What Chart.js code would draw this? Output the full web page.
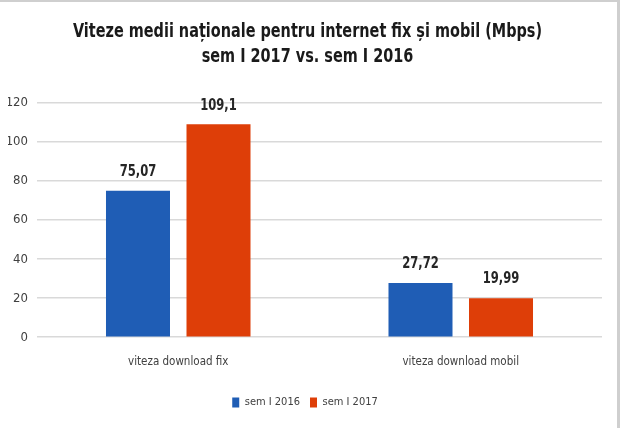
<!DOCTYPE html>
<html>
<head>
<meta charset="utf-8">
<script src="https://cdn.jsdelivr.net/npm/chart.js@4.4.1/dist/chart.umd.min.js"></script>
<style>
  html, body { margin: 0; padding: 0; background: #fff; }
  #wrap { width: 620px; height: 428px; box-sizing: border-box; border-top: 2px solid #cfcfcf; border-right: 3px solid #cfcfcf; position: relative; }
  #wrap canvas { display: block; }
</style>
</head>
<body>
<div id="wrap"><canvas id="c"></canvas></div>
<script>
const categories = ['viteza download fix', 'viteza download mobil'];
const series2016 = [75.07, 27.72];
const series2017 = [109.1, 19.99];
const labels2016 = ['75,07', '27,72'];
const labels2017 = ['109,1', '19,99'];
const seriesNames = ['sem I 2016', 'sem I 2017'];
const titleLines = ['Viteze medii naționale pentru internet fix și mobil (Mbps)', 'sem I 2017 vs. sem I 2016'];

const FONT = "'DejaVu Sans Condensed', 'Liberation Sans', sans-serif";

// draws text horizontally compressed (the original uses a narrow font)
function narrowText(ctx, text, x, y, sx) {
  ctx.save();
  ctx.translate(x, y);
  ctx.scale(sx, 1);
  ctx.fillText(text, 0, 0);
  ctx.restore();
}

const titlePlugin = {
  id: 'narrowTitle',
  afterDraw(chart) {
    const ctx = chart.ctx;
    ctx.save();
    ctx.font = 'bold 19px ' + FONT;
    ctx.fillStyle = '#1a1a1a';
    ctx.textAlign = 'center';
    ctx.textBaseline = 'middle';
    const cx = chart.width / 2 - 1;
    titleLines.forEach((t, i) => narrowText(ctx, t, cx, 30 + i * 25, 0.845));
    ctx.restore();
  }
};

const valueLabels = {
  id: 'valueLabels',
  afterDatasetsDraw(chart) {
    const ctx = chart.ctx;
    const texts = [labels2016, labels2017];
    ctx.save();
    ctx.font = 'bold 16.5px ' + FONT;
    ctx.fillStyle = '#262626';
    ctx.textAlign = 'center';
    ctx.textBaseline = 'middle';
    chart.data.datasets.forEach((ds, di) => {
      const meta = chart.getDatasetMeta(di);
      meta.data.forEach((el, i) => {
        narrowText(ctx, texts[di][i], el.x, el.y - 19, 0.78);
      });
    });
    ctx.restore();
  }
};

new Chart(document.getElementById('c'), {
  type: 'bar',
  data: {
    labels: categories,
    datasets: [
      { label: seriesNames[0], data: series2016, backgroundColor: '#1f5db5', barPercentage: 0.795, categoryPercentage: 0.57 },
      { label: seriesNames[1], data: series2017, backgroundColor: '#de3e08', barPercentage: 0.795, categoryPercentage: 0.57 }
    ]
  },
  options: {
    responsive: true,
    maintainAspectRatio: false,
    animation: false,
    layout: { padding: { left: 8, right: 15, top: 101, bottom: 10 } },
    plugins: {
      title: { display: false },
      legend: {
        position: 'bottom',
        labels: {
          color: '#404040',
          font: { family: FONT, size: 11 },
          boxWidth: 7,
          boxHeight: 10,
          padding: 10
        }
      },
      tooltip: { enabled: false }
    },
    scales: {
      x: {
        grid: { display: false, drawTicks: false },
        border: { display: false },
        ticks: { color: '#404040', font: { family: FONT, size: 11.5 }, padding: 18 }
      },
      y: {
        min: 0,
        max: 120,
        afterFit(scale) { scale.width = 29; },
        grid: { color: '#d9d9d9', lineWidth: 1.5, drawTicks: false },
        border: { display: false },
        ticks: { stepSize: 20, color: '#404040', font: { family: FONT, size: 13 }, padding: 9 }
      }
    }
  },
  plugins: [valueLabels, titlePlugin]
});
</script>
</body>
</html>
